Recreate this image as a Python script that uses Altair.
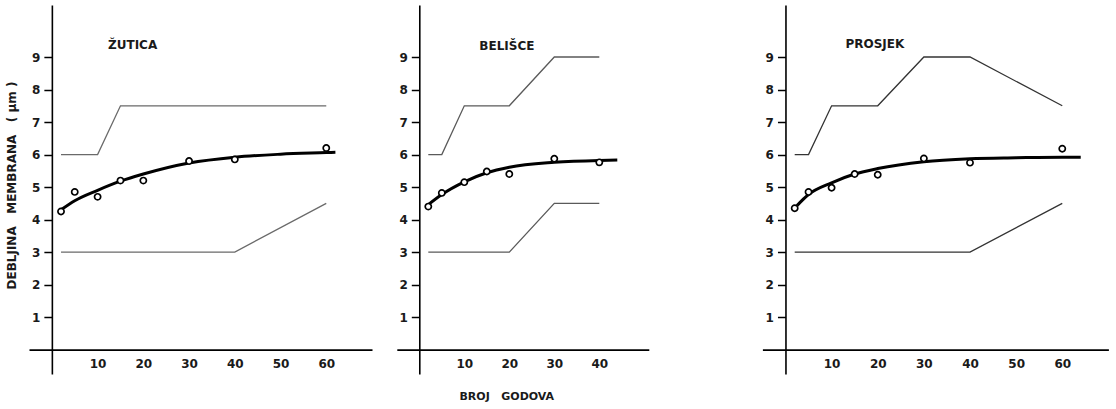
import altair as alt
import pandas as pd

# ---------------- data ----------------
# Panel 1: ŽUTICA
zut_up_x = [2, 10, 15, 60]
zut_up_y = [6, 6, 7.5, 7.5]
zut_lo_x = [2, 40, 60]
zut_lo_y = [3, 3, 4.5]
zut_pt_x = [2, 5, 10, 15, 20, 30, 40, 60]
zut_pt_y = [4.25, 4.85, 4.7, 5.2, 5.2, 5.8, 5.85, 6.2]
zut_cv_x = [2, 5, 10, 15, 20, 30, 40, 50, 60, 62]
zut_cv_y = [4.3, 4.58, 4.9, 5.18, 5.4, 5.74, 5.92, 6.01, 6.06, 6.07]

# Panel 2: BELIŠCE
bel_up_x = [2, 5, 10, 20, 30, 40]
bel_up_y = [6, 6, 7.5, 7.5, 9, 9]
bel_lo_x = [2, 20, 30, 40]
bel_lo_y = [3, 3, 4.5, 4.5]
bel_pt_x = [2, 5, 10, 15, 20, 30, 40]
bel_pt_y = [4.4, 4.82, 5.15, 5.48, 5.4, 5.87, 5.76]
bel_cv_x = [2, 5, 10, 15, 20, 30, 40, 44]
bel_cv_y = [4.46, 4.77, 5.16, 5.44, 5.61, 5.76, 5.82, 5.83]

# Panel 3: PROSJEK
pro_up_x = [2, 5, 10, 20, 30, 40, 60]
pro_up_y = [6, 6, 7.5, 7.5, 9, 9, 7.5]
pro_lo_x = [2, 40, 60]
pro_lo_y = [3, 3, 4.5]
pro_pt_x = [2, 5, 10, 15, 20, 30, 40, 60]
pro_pt_y = [4.35, 4.85, 4.98, 5.4, 5.38, 5.88, 5.75, 6.18]
pro_cv_x = [2.5, 5, 10, 15, 20, 30, 40, 50, 60, 64]
pro_cv_y = [4.43, 4.77, 5.13, 5.4, 5.57, 5.78, 5.87, 5.9, 5.92, 5.92]

y_ticks = [1, 2, 3, 4, 5, 6, 7, 8, 9]
x_ticks_long = [10, 20, 30, 40, 50, 60]
x_ticks_short = [10, 20, 30, 40]

GAP = "\u00a0\u00a0\u00a0"
Y_TITLE = "DEBLJINA" + GAP + "MEMBRANA" + GAP + "(\u00a0μm\u00a0)"
X_TITLE = "BROJ\u00a0\u00a0\u00a0GODOVA"

FONT = "DejaVu Sans"
Y_DOMAIN = [-0.75, 10.6]
HEIGHT = 369


def panel(name, up_x, up_y, lo_x, lo_y, pt_x, pt_y, cv_x, cv_y,
          x_max, width, x_ticks, title_pos, band_color,
          y_title=None, x_title=None):
    x_min = -5
    px_per_unit = width / (x_max - x_min)
    x_scale = alt.Scale(domain=[x_min, x_max], nice=False, zero=False)
    y_scale = alt.Scale(domain=Y_DOMAIN, nice=False, zero=False)

    x_axis_kw = dict(
        values=x_ticks,
        offset=-(0 - Y_DOMAIN[0]) * HEIGHT / (Y_DOMAIN[1] - Y_DOMAIN[0]),
        ticks=False, domainColor="black", domainWidth=1.6, labelPadding=9,
        labelFont=FONT, labelFontSize=12, labelFontWeight="bold",
        labelColor="#1a1a1a", grid=False,
    )
    if x_title:
        x_axis_kw.update(title=x_title[0], titleX=x_title[1], titleY=x_title[2],
                         titleAlign="center", titleBaseline="middle",
                         titleFont=FONT, titleFontSize=11, titleFontWeight="bold",
                         titleColor="#1a1a1a")
    else:
        x_axis_kw["title"] = None

    y_axis_kw = dict(
        values=y_ticks, offset=-(0 - x_min) * px_per_unit,
        tickSize=8, tickWidth=1.5, tickColor="black", domainColor="black",
        domainWidth=1.6, labelPadding=4, labelFont=FONT, labelFontSize=12,
        labelFontWeight="bold", labelColor="#1a1a1a", grid=False,
    )
    if y_title:
        y_axis_kw.update(title=y_title[0], titleX=y_title[1], titleY=y_title[2],
                         titleAlign="center", titleBaseline="middle",
                         titleFont=FONT, titleFontSize=12, titleFontWeight="bold",
                         titleColor="#1a1a1a")
    else:
        y_axis_kw["title"] = None

    x_enc = alt.X("x:Q", scale=x_scale, axis=alt.Axis(**x_axis_kw))
    y_enc = alt.Y("y:Q", scale=y_scale, axis=alt.Axis(**y_axis_kw))

    up = alt.Chart(pd.DataFrame({"x": up_x, "y": up_y})).mark_line(
        color=band_color, strokeWidth=1.3).encode(x=x_enc, y=y_enc)
    lo = alt.Chart(pd.DataFrame({"x": lo_x, "y": lo_y})).mark_line(
        color=band_color, strokeWidth=1.3).encode(x="x:Q", y="y:Q")
    cv = alt.Chart(pd.DataFrame({"x": cv_x, "y": cv_y})).mark_line(
        color="black", strokeWidth=3, interpolate="monotone").encode(x="x:Q", y="y:Q")
    pt = alt.Chart(pd.DataFrame({"x": pt_x, "y": pt_y})).mark_point(
        shape="circle", filled=True, fill="white", stroke="black",
        strokeWidth=1.7, size=38, opacity=1).encode(x="x:Q", y="y:Q")
    lab = alt.Chart(pd.DataFrame({"t": [name]})).mark_text(
        align="left", baseline="alphabetic", font=FONT, fontSize=12,
        fontWeight="bold", color="#1a1a1a").encode(
        x=alt.value(title_pos[0]), y=alt.value(title_pos[1]), text="t:N")

    return alt.layer(up, lo, cv, pt, lab).properties(width=width, height=HEIGHT)


p1 = panel("ŽUTICA", zut_up_x, zut_up_y, zut_lo_x, zut_lo_y, zut_pt_x, zut_pt_y,
           zut_cv_x, zut_cv_y, 70, 343, x_ticks_long, (79, 43.5), "#6a6a6a",
           y_title=(Y_TITLE, -40.6, 180))
p2 = panel("BELIŠCE", bel_up_x, bel_up_y, bel_lo_x, bel_lo_y, bel_pt_x, bel_pt_y,
           bel_cv_x, bel_cv_y, 51, 252, x_ticks_short, (82.5, 44.5), "#5a5a5a",
           x_title=(X_TITLE, 109.5, 47))
p3 = panel("PROSJEK", pro_up_x, pro_up_y, pro_lo_x, pro_lo_y, pro_pt_x, pro_pt_y,
           pro_cv_x, pro_cv_y, 70, 346, x_ticks_long, (83, 42.5), "#333333")

# empty spacer panel widening the gap between the 2nd and 3rd panel
spacer = alt.Chart(pd.DataFrame({"t": [""]})).mark_text(baseline="middle").encode(
    x=alt.value(30), y=alt.value(180), text="t:N"
).properties(width=64, height=HEIGHT)

chart = alt.hconcat(p1, p2, spacer, p3, spacing=24.8, bounds="flush").properties(
    padding={"left": 5, "top": 5, "right": 5, "bottom": 5},
    background="white",
).configure_view(strokeWidth=0, stroke=None)

chart.save("out.html", embed_options={"renderer": "svg", "actions": False})
